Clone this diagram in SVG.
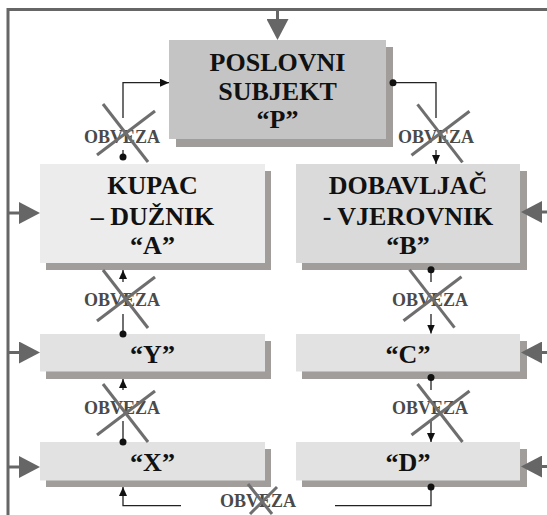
<svg xmlns="http://www.w3.org/2000/svg" width="547" height="515" viewBox="0 0 547 515">
<style>
.sh{fill:#a19d9a}
.bt{font-family:"Liberation Serif","Times New Roman",serif;font-weight:bold;font-size:26px;fill:#111;text-anchor:middle}
.ob{font-family:"Liberation Serif","Times New Roman",serif;font-weight:bold;font-size:18px;fill:#4a4a4a;text-anchor:middle}
.fr{fill:none;stroke:#666;stroke-width:3}
.big{fill:none;stroke:#666;stroke-width:3;marker-end:url(#ba)}
.cn{fill:none;stroke:#222;stroke-width:1.3}
.ae{marker-end:url(#sa)}
.ds{marker-start:url(#dot)}
.x{stroke:#6e6e6e;stroke-width:3;fill:none}
</style>
<defs>
<marker id="sa" markerWidth="9" markerHeight="8" refX="9" refY="4" orient="auto" markerUnits="userSpaceOnUse"><path d="M0,0 L9,4 L0,8 z" fill="#111"/></marker>
<marker id="dot" markerWidth="8" markerHeight="8" refX="4" refY="4" orient="auto" markerUnits="userSpaceOnUse"><circle cx="4" cy="4" r="3.5" fill="#111"/></marker>
<marker id="ba" markerWidth="21" markerHeight="22" refX="0" refY="11" orient="auto" markerUnits="userSpaceOnUse"><path d="M0,0 L21,11 L0,22 z" fill="#666"/></marker>
<g id="cross"><line x1="-22.5" y1="-29" x2="22.5" y2="29"/><line x1="-28.5" y1="22" x2="29.5" y2="-22"/></g>
</defs>
<rect width="547" height="515" fill="#fff"/>

<g id="connectors">
<path class="fr" d="M8,515 V9.5 H549"/>
<path class="big" d="M277.5,9.5 V19"/>
<path class="big" d="M8,213 H19"/>
<path class="big" d="M8,352.5 H19"/>
<path class="big" d="M8,467 H19"/>
</g>

<g id="node-p">
<rect class="sh" x="176" y="47" width="217" height="100"/>
<rect x="169" y="40" width="217" height="99" fill="#c4c4c4"/>
<text class="bt" x="277.5" y="71">POSLOVNI</text>
<text class="bt" x="277.5" y="100">SUBJEKT</text>
<text class="bt" x="277.5" y="128">“P”</text>
</g>
<g id="node-a">
<rect class="sh" x="46" y="171" width="225" height="99"/>
<rect x="40" y="164" width="225" height="99" fill="#ececec"/>
<text class="bt" x="152.5" y="194">KUPAC</text>
<text class="bt" x="152.5" y="225">– DUŽNIK</text>
<text class="bt" x="152.5" y="254">“A”</text>
</g>
<g id="node-b">
<rect class="sh" x="302" y="171" width="225" height="99"/>
<rect x="296" y="164" width="224" height="99" fill="#dadada"/>
<text class="bt" x="408" y="194">DOBAVLJAČ</text>
<text class="bt" x="408" y="225">- VJEROVNIK</text>
<text class="bt" x="408" y="254">“B”</text>
</g>
<g id="node-y">
<rect class="sh" x="46" y="341" width="225" height="38"/>
<rect x="40" y="334" width="225" height="37.5" fill="#e2e2e2"/>
<text class="bt" x="152.5" y="363">“Y”</text>
</g>
<g id="node-x">
<rect class="sh" x="46" y="449" width="225" height="38"/>
<rect x="40" y="442" width="225" height="38.5" fill="#e2e2e2"/>
<text class="bt" x="152.5" y="471">“X”</text>
</g>
<g id="node-c">
<rect class="sh" x="302" y="341" width="225" height="38"/>
<rect x="296" y="334" width="224" height="37.5" fill="#e2e2e2"/>
<text class="bt" x="408" y="363">“C”</text>
</g>
<g id="node-d">
<rect class="sh" x="302" y="449" width="225" height="38"/>
<rect x="296" y="442" width="224" height="38.5" fill="#e2e2e2"/>
<text class="bt" x="408" y="471">“D”</text>
</g>

<g id="connectors-right">
<path class="big" d="M548,212 H542"/>
<path class="big" d="M548,352.5 H542"/>
<path class="big" d="M548,466.5 H542"/>
</g>

<g id="links">
<path class="cn ds" d="M123,157 V150"/>
<path class="cn ae" d="M123,118 V82.7 H169"/>
<path class="cn ds" d="M393,82.7 H436 V118"/>
<path class="cn ae" d="M436,150 V164"/>
<path class="cn ds" d="M123,334 V314"/>
<path class="cn ae" d="M123,282 V270"/>
<path class="cn ds" d="M431,269.7 V282"/>
<path class="cn ae" d="M431,314 V333.5"/>
<path class="cn ds" d="M123,442 V421"/>
<path class="cn ae" d="M123,390 V379"/>
<path class="cn ds" d="M431,377.5 V390"/>
<path class="cn ae" d="M431,421 V442"/>
<path class="cn ae" d="M181,505.7 H123 V487"/>
<path class="cn ds" d="M431,487 V505.7 H335"/>
<text class="ob" x="122" y="143">OBVEZA</text>
<text class="ob" x="436" y="143">OBVEZA</text>
<text class="ob" x="122" y="306">OBVEZA</text>
<text class="ob" x="430" y="306">OBVEZA</text>
<text class="ob" x="122" y="414">OBVEZA</text>
<text class="ob" x="430" y="414">OBVEZA</text>
<text class="ob" x="258" y="507">OBVEZA</text>
<use href="#cross" class="x" transform="translate(125.5,133)"/>
<use href="#cross" class="x" transform="translate(440,133.3)"/>
<use href="#cross" class="x" transform="translate(125.5,299)"/>
<use href="#cross" class="x" transform="translate(432,298.7)"/>
<use href="#cross" class="x" transform="translate(125.5,413)"/>
<use href="#cross" class="x" transform="translate(440,413)"/>
<line class="x" x1="248" y1="484" x2="272" y2="514"/>
<line class="x" x1="250" y1="514" x2="277" y2="487"/>
</g>
</svg>
